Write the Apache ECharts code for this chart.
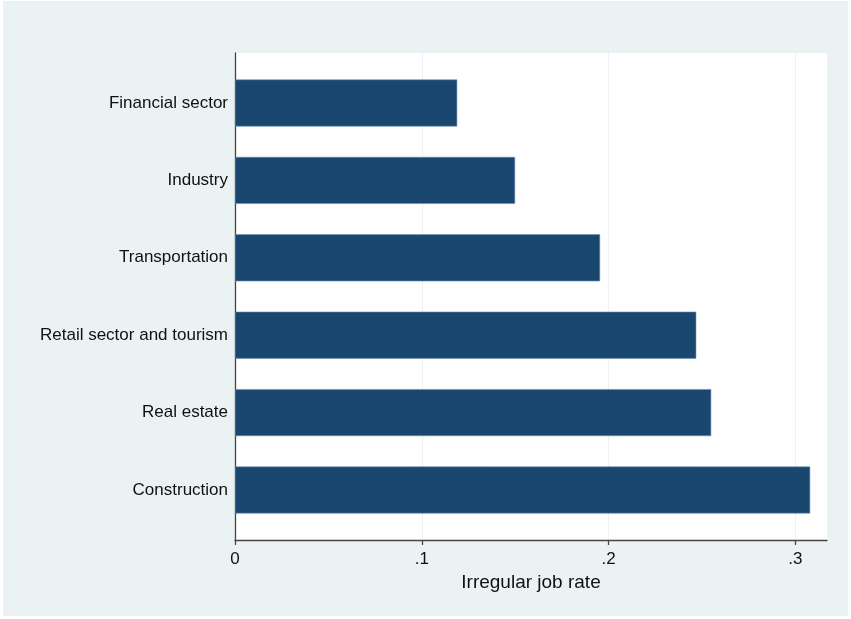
<!DOCTYPE html>
<html>
<head>
<meta charset="utf-8">
<script src="https://cdn.jsdelivr.net/npm/echarts@6/dist/echarts.min.js"></script>
<style>
  html, body { margin: 0; padding: 0; background: #fff; }
  #chart { width: 851px; height: 619px; }
</style>
</head>
<body>
<div id="chart"></div>
<script>
// Irregular job rate by sector (top to bottom as drawn)
const sectors = ["Financial sector", "Industry", "Transportation",
                 "Retail sector and tourism", "Real estate", "Construction"];
const rates   = [0.119, 0.150, 0.1955, 0.247, 0.255, 0.308];
const xTicks  = [0, 0.1, 0.2, 0.3];
const xLabels = ["0", ".1", ".2", ".3"];

const navy    = "#1a476f";
const outerBg = "#eaf2f3";
const font    = "Liberation Sans, Arial, sans-serif";

const chart = echarts.init(document.getElementById("chart"));

// grid 0: white plot region with axes; grid 1: same x span, inset vertically for bars
chart.setOption({
  backgroundColor: "#fff",
  animation: false,
  graphic: [{
    type: "rect", z: -10, silent: true,
    shape: { x: 3, y: 1, width: 845, height: 615 },
    style: { fill: outerBg },
  }],
  grid: [
    { left: 235, top: 53, width: 592, height: 487, show: true,
      backgroundColor: "#fff", borderWidth: 0 },
    { left: 235, top: 64.3, width: 592, height: 464.4 },
  ],
  xAxis: [
    {
      gridIndex: 0, type: "value", min: 0, max: 0.317, interval: 0.1,
      axisLine: { show: true, lineStyle: { color: "#444", width: 1.3 } },
      axisTick: { show: true, length: 5, lineStyle: { color: "#444", width: 1.3 },
                  customValues: xTicks },
      axisLabel: {
        color: "#111", fontFamily: font, fontSize: 17, margin: 11,
        customValues: xTicks,
        formatter: v => xLabels[xTicks.findIndex(t => Math.abs(t - v) < 1e-9)] ?? "",
      },
      splitLine: { show: true, lineStyle: { color: outerBg, width: 1 } },
      name: "Irregular job rate", nameLocation: "middle", nameGap: 31,
      nameTextStyle: { color: "#111", fontFamily: font, fontSize: 19 },
    },
    {
      gridIndex: 1, type: "value", min: 0, max: 0.317, show: false,
      splitLine: { show: false },
    },
  ],
  yAxis: [
    {
      gridIndex: 0, type: "value", min: 0, max: 1,
      axisLine: { show: true, lineStyle: { color: "#444", width: 1.3 } },
      axisTick: { show: false }, axisLabel: { show: false },
      splitLine: { show: false },
    },
    {
      gridIndex: 1, type: "category", data: sectors, inverse: true,
      axisLine: { show: false }, axisTick: { show: false },
      axisLabel: { color: "#111", fontFamily: font, fontSize: 17, margin: 7,
                   padding: [2, 0, 0, 0] },
    },
  ],
  series: [{
    type: "bar",
    xAxisIndex: 1, yAxisIndex: 1,
    data: rates,
    barWidth: 47,
    itemStyle: { color: navy, borderColor: "#6f8fab", borderWidth: 0.6 },
  }],
});
</script>
</body>
</html>
